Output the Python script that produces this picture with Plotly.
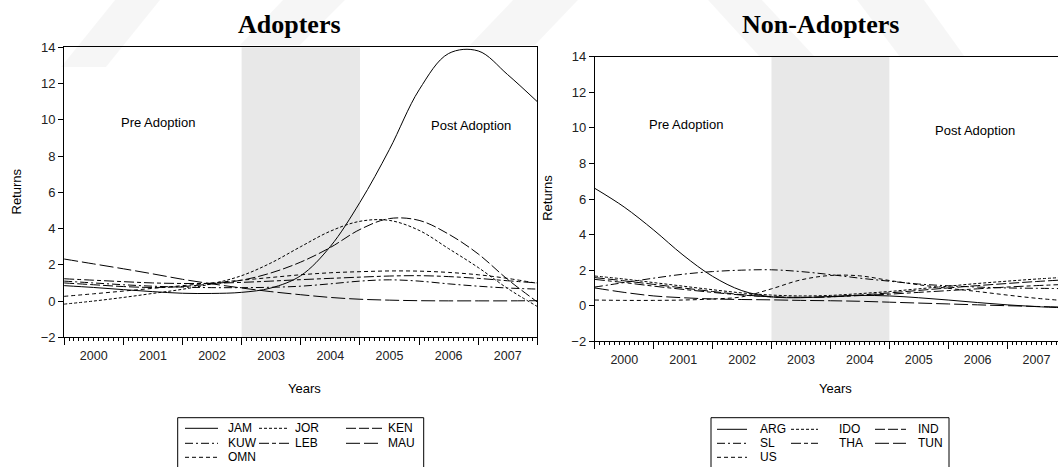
import plotly.graph_objects as go

W, H = 1058, 467

# Half-yearly observation dates shared by every series
dates = [
    "2000-01-01", "2000-07-01", "2001-01-01", "2001-07-01", "2002-01-01",
    "2002-07-01", "2003-01-01", "2003-07-01", "2004-01-01", "2004-07-01",
    "2005-01-01", "2005-07-01", "2006-01-01", "2006-07-01", "2007-01-01",
    "2007-07-01", "2008-01-01",
]

# Adopters (smoothed returns)
jam = [0.85, 0.75, 0.63, 0.52, 0.43, 0.42, 0.48, 0.72, 1.40, 3.00, 5.45, 8.35, 11.65, 13.65, 13.80, 12.50, 11.00]
jor = [-0.17, 0.00, 0.20, 0.42, 0.65, 0.95, 1.40, 2.10, 3.00, 3.85, 4.40, 4.45, 3.90, 2.90, 1.85, 0.70, -0.30]
ken = [1.00, 0.90, 0.80, 0.75, 0.80, 0.95, 1.15, 1.55, 2.15, 2.95, 3.95, 4.55, 4.45, 3.70, 2.60, 1.20, -0.05]
kuw = [1.10, 1.00, 0.90, 0.82, 0.77, 0.74, 0.74, 0.76, 0.82, 0.95, 1.10, 1.17, 1.10, 0.95, 0.82, 0.72, 0.66]
leb = [1.23, 1.15, 1.07, 1.00, 0.97, 0.98, 1.03, 1.10, 1.18, 1.25, 1.32, 1.38, 1.40, 1.35, 1.25, 1.12, 1.00]
mau = [2.32, 2.05, 1.78, 1.50, 1.20, 0.95, 0.72, 0.52, 0.35, 0.20, 0.10, 0.05, 0.02, 0.01, 0.01, 0.01, 0.02]
omn = [0.26, 0.40, 0.55, 0.70, 0.85, 1.00, 1.15, 1.30, 1.45, 1.56, 1.62, 1.66, 1.65, 1.58, 1.45, 1.25, 0.98]

# Non-adopters (smoothed returns)
arg = [6.60, 5.55, 4.25, 2.85, 1.65, 0.85, 0.50, 0.45, 0.52, 0.58, 0.55, 0.45, 0.32, 0.18, 0.05, -0.05, -0.12]
ido = [1.67, 1.50, 1.30, 1.10, 0.90, 0.72, 0.60, 0.55, 0.58, 0.68, 0.80, 0.95, 1.10, 1.25, 1.38, 1.50, 1.60]
ind = [1.58, 1.40, 1.20, 1.00, 0.80, 0.62, 0.50, 0.47, 0.50, 0.60, 0.72, 0.86, 1.00, 1.13, 1.25, 1.36, 1.46]
sl = [1.05, 1.30, 1.55, 1.77, 1.92, 2.00, 2.02, 1.92, 1.75, 1.55, 1.38, 1.22, 1.12, 1.05, 1.00, 0.98, 0.96]
tha = [1.48, 1.30, 1.10, 0.92, 0.75, 0.60, 0.50, 0.47, 0.50, 0.57, 0.65, 0.75, 0.85, 0.95, 1.05, 1.13, 1.20]
tun = [1.00, 0.75, 0.55, 0.45, 0.38, 0.35, 0.33, 0.30, 0.28, 0.25, 0.20, 0.15, 0.10, 0.05, 0.00, -0.04, -0.08]
us = [0.32, 0.30, 0.30, 0.32, 0.38, 0.50, 0.95, 1.45, 1.70, 1.68, 1.42, 1.18, 0.98, 0.80, 0.60, 0.42, 0.28]

adopters = [("JAM", jam), ("JOR", jor), ("KEN", ken), ("KUW", kuw),
            ("LEB", leb), ("MAU", mau), ("OMN", omn)]
non_adopters = [("ARG", arg), ("IDO", ido), ("IND", ind), ("SL", sl),
                ("THA", tha), ("TUN", tun), ("US", us)]

# One dash pattern per legend slot
dashes = ["solid", "3px,2px", "10px,3px", "8px,3px,2px,3px",
          "10px,3px,4px,3px", "14px,4px", "4px,3px"]

adoption_window = ("2003-01-01", "2005-01-01")

SANS = "Liberation Sans, Arial, sans-serif"
SERIF = "Liberation Serif, Times New Roman, serif"

fig = go.Figure()

for (name, vals), dash in zip(adopters, dashes):
    fig.add_trace(go.Scatter(
        x=dates, y=vals, name=name, mode="lines", line_shape="spline",
        line=dict(color="black", width=1, dash=dash),
        xaxis="x", yaxis="y", showlegend=False,
    ))

for (name, vals), dash in zip(non_adopters, dashes):
    fig.add_trace(go.Scatter(
        x=dates, y=vals, name=name, mode="lines", line_shape="spline",
        line=dict(color="black", width=1, dash=dash),
        xaxis="x2", yaxis="y2", showlegend=False,
    ))

xaxis_common = dict(
    type="date", tick0="2000-01-01", dtick="M12", tickformat="%Y",
    ticklabelmode="period", ticks="outside", ticklen=7, tickcolor="black",
    showline=True, linecolor="black", linewidth=1, showgrid=False,
    zeroline=False, tickfont=dict(family=SANS, size=12.5, color="#222"),
    minor=dict(dtick="M1", ticks="outside", ticklen=3, tickcolor="black",
               showgrid=False),
)
yaxis_common = dict(
    range=[-2, 14], dtick=2, ticks="outside", ticklen=5, tickcolor="black",
    showline=True, linecolor="black", linewidth=1, showgrid=False,
    zeroline=False, tickfont=dict(family=SANS, size=13, color="#222"),
)

fig.update_layout(
    width=W, height=H,
    margin=dict(l=0, r=0, t=0, b=0, autoexpand=False),
    paper_bgcolor="white", plot_bgcolor="rgba(0,0,0,0)",
    showlegend=False,
    xaxis=dict(xaxis_common, domain=[64.1 / W, 537.3 / W],
               range=["2000-01-01", "2008-01-01"], mirror=True, anchor="y"),
    yaxis=dict(yaxis_common, domain=[(H - 337.3) / H, (H - 47.3) / H],
               mirror=True, anchor="x"),
    xaxis2=dict(xaxis_common, domain=[594.8 / W, 1.0],
                range=["2000-01-01", "2007-11-13"], mirror=True, anchor="y2"),
    yaxis2=dict(yaxis_common, domain=[(H - 341.3) / H, (H - 56.7) / H],
                mirror=False, anchor="x2"),
)

def px_x(v):
    return v / W

def px_y(v):
    return 1 - v / H

# Faint diagonal watermark bands across the top of the page
bands = [
    [(115, 0), (160, 0), (106, 67), (61, 67)],
    [(283, 0), (345, 0), (300, 45), (240, 45)],
    [(513, 0), (578, 0), (535, 45), (470, 45)],
    [(708, 0), (762, 0), (815, 57), (760, 57)],
    [(857, 0), (924, 0), (965, 57), (900, 57)],
]
for poly in bands:
    path = "M " + " L ".join(f"{px_x(x):.5f},{px_y(y):.5f}" for x, y in poly) + " Z"
    fig.add_shape(type="path", path=path, xref="paper", yref="paper",
                  fillcolor="rgba(0,0,0,0.035)", line=dict(width=0),
                  layer="below")

# Adoption window shading
for xr, yr in (("x", "y domain"), ("x2", "y2 domain")):
    fig.add_shape(type="rect", xref=xr, yref=yr,
                  x0=adoption_window[0], x1=adoption_window[1], y0=0, y1=1,
                  fillcolor="#e8e8e8", line=dict(width=0), layer="below")

def ann(text, x, y, xref="paper", yref="paper", size=13, family=SANS,
        angle=0, bold=False, xanchor="center"):
    fig.add_annotation(
        text=f"<b>{text}</b>" if bold else text, x=x, y=y, xref=xref, yref=yref,
        showarrow=False, textangle=angle, xanchor=xanchor, yanchor="middle",
        font=dict(family=family, size=size, color="black"),
    )

# Panel titles
ann("Adopters", px_x(289.7), px_y(25), size=26, family=SERIF, bold=True)
ann("Non-Adopters", px_x(820.6), px_y(25), size=26, family=SERIF, bold=True)

# Axis titles
ann("Returns", px_x(15.5), px_y(192), angle=-90)
ann("Returns", px_x(546.8), px_y(198), angle=-90)
ann("Years", px_x(304), px_y(388))
ann("Years", px_x(835.7), px_y(388))

# Period labels
ann("Pre Adoption", "2001-08-01", 9.84, xref="x", yref="y")
ann("Post Adoption", "2006-11-15", 9.69, xref="x", yref="y")
ann("Pre Adoption", "2001-07-20", 10.17, xref="x2", yref="y2")
ann("Post Adoption", "2006-06-15", 9.85, xref="x2", yref="y2")

# Boxed three-column key under each panel
def draw_key(series, box, cols, rows):
    x0, x1, top = box
    fig.add_shape(type="rect", xref="paper", yref="paper",
                  x0=px_x(x0), x1=px_x(x1), y0=px_y(H + 6), y1=px_y(top),
                  line=dict(color="black", width=1), fillcolor="white")
    for i, ((name, _), dash) in enumerate(zip(series, dashes)):
        sx0, sx1, tx = cols[i % 3]
        ry = rows[i // 3]
        fig.add_shape(type="line", xref="paper", yref="paper",
                      x0=px_x(sx0), x1=px_x(sx1), y0=px_y(ry), y1=px_y(ry),
                      line=dict(color="black", width=1, dash=dash))
        ann(name, px_x(tx), px_y(ry), size=12, xanchor="left")

draw_key(adopters, (177.7, 423.7, 417.7),
         [(185, 218, 226), (259, 289, 293), (346, 382, 386)],
         [428.3, 443.3, 457.3])
draw_key(non_adopters, (711, 949, 417.7),
         [(717, 747, 758), (791, 818, 837), (875, 906, 916)],
         [429.3, 443.3, 457.3])

fig.write_html("out.html")
